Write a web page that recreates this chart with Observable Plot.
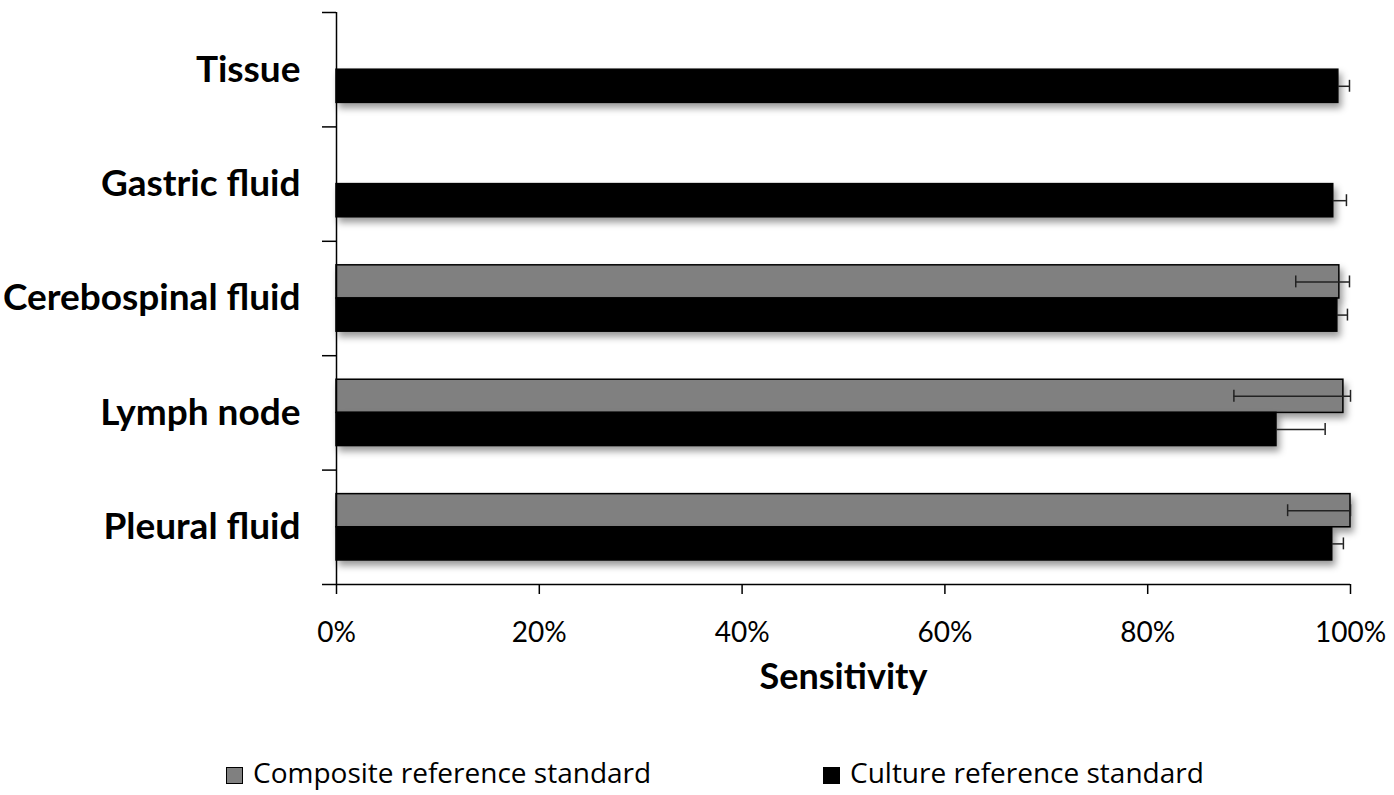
<!DOCTYPE html>
<html>
<head>
<meta charset="utf-8">
<script src="https://cdn.jsdelivr.net/npm/d3@7"></script>
<script src="https://cdn.jsdelivr.net/npm/@observablehq/plot@0.6"></script>
<style>
  html, body { margin: 0; padding: 0; background: #fff; }
  #chart { width: 1394px; height: 710px; }
  .legend {
    position: relative; height: 85px; width: 1394px;
    font-family: "Open Sans", Lato, sans-serif; font-size: 28px; color: #000;
  }
  .legend .item { position: absolute; top: 41px; display: flex; align-items: center; line-height: 42px; }
  .legend .sw { width: 17px; height: 17px; border: 1px solid #000; margin-right: 10px; box-sizing: border-box; margin-top: 6px; }
</style>
</head>
<body>
<div id="chart"></div>
<div class="legend">
  <div class="item" style="left:226px"><span class="sw" style="background:#808080"></span><span>Composite reference standard</span></div>
  <div class="item" style="left:823px"><span class="sw" style="background:#000"></span><span>Culture reference standard</span></div>
</div>
<script>
// Sensitivity by specimen type, top to bottom
const categories = ["Tissue", "Gastric fluid", "Cerebospinal fluid", "Lymph node", "Pleural fluid"];

// Composite reference standard (%), with 95% CI
const composite   = [null, null, 98.9, 99.3, 100];
const compositeLo = [null, null, 94.6, 88.5, 93.8];
const compositeHi = [null, null, 99.9, 100, 100];

// Culture reference standard (%), upper CI bound
const culture   = [98.8, 98.3, 98.7, 92.7, 98.2];
const cultureHi = [99.9, 99.6, 99.7, 97.5, 99.3];

const xTicks = [0, 20, 40, 60, 80, 100];
const seriesNames = ["Composite reference standard", "Culture reference standard"];

// each category occupies the band [i, i + 1]; the two bars sit side by side inside it
const rows = categories.map((c, i) => ({category: c, i}));
const compRows = rows.filter(d => composite[d.i] != null).map(d => ({
  ...d, series: seriesNames[0], value: composite[d.i], lo: compositeLo[d.i], hi: compositeHi[d.i],
  y1: d.i + 0.21, y2: d.i + 0.5
}));
const cultRows = rows.map(d => ({
  ...d, series: seriesNames[1], value: culture[d.i], hi: cultureHi[d.i],
  y1: d.i + 0.5, y2: d.i + 0.79
}));
const mid = d => (d.y1 + d.y2) / 2;
const cap = 0.052;

const chart = Plot.plot({
  width: 1394,
  height: 710,
  marginLeft: 336,
  marginRight: 44,
  marginTop: 12,
  marginBottom: 126,
  style: {fontFamily: "Lato, sans-serif", fontSize: "24px", color: "#000", background: "#fff", overflow: "visible"},
  x: {domain: [0, 100]},
  y: {domain: [0, categories.length], reverse: true},
  marks: [
    // bars
    Plot.rectX(compRows, {x1: 0, x2: "value", y1: "y1", y2: "y2", fill: "#808080", stroke: "#000", strokeWidth: 1.5}),
    Plot.rectX(cultRows, {x1: 0, x2: "value", y1: "y1", y2: "y2", fill: "#000", stroke: "#000", strokeWidth: 1.5}),
    // error bars
    Plot.ruleY(compRows, {x1: "lo", x2: "hi", y: mid, stroke: "#222", strokeWidth: 1.5}),
    Plot.ruleX(compRows, {x: "lo", y1: d => mid(d) - cap, y2: d => mid(d) + cap, stroke: "#222", strokeWidth: 1.5}),
    Plot.ruleX(compRows, {x: "hi", y1: d => mid(d) - cap, y2: d => mid(d) + cap, stroke: "#222", strokeWidth: 1.5}),
    Plot.ruleY(cultRows, {x1: "value", x2: "hi", y: mid, stroke: "#222", strokeWidth: 1.5}),
    Plot.ruleX(cultRows, {x: "hi", y1: d => mid(d) - cap, y2: d => mid(d) + cap, stroke: "#222", strokeWidth: 1.5}),
    // axes
    Plot.ruleX([0], {y1: 0, y2: categories.length, stroke: "#000", strokeWidth: 1.5}),
    Plot.ruleY([categories.length], {x1: 0, x2: 100, stroke: "#000", strokeWidth: 1.5}),
    Plot.axisY({ticks: d3.range(categories.length + 1), tickSize: 14, tickFormat: () => "", strokeWidth: 1.5, label: null}),
    Plot.axisX({ticks: xTicks, tickFormat: d => d + "%", tickSize: 10, tickPadding: 28, fontSize: 28, strokeWidth: 1.5, label: null}),
    // category labels
    Plot.text(rows, {x: 0, y: d => d.i + 0.5, text: "category", textAnchor: "end", dx: -36, fontSize: 37, fontWeight: "bold"}),
    Plot.text(["Sensitivity"], {frameAnchor: "bottom", dy: 104, fontSize: 36, fontWeight: "bold"})
  ]
});

// soft drop shadow under the bars
const svg = d3.select(chart);
svg.append("defs").append("filter")
  .attr("id", "barShadow").attr("x", "-5%").attr("y", "-30%").attr("width", "115%").attr("height", "180%")
  .append("feDropShadow")
  .attr("dx", 3).attr("dy", 5).attr("stdDeviation", 3.5)
  .attr("flood-color", "#000").attr("flood-opacity", 0.4);
svg.selectAll("g[aria-label='rect']").attr("filter", "url(#barShadow)");

document.getElementById("chart").append(chart);
</script>
</body>
</html>
